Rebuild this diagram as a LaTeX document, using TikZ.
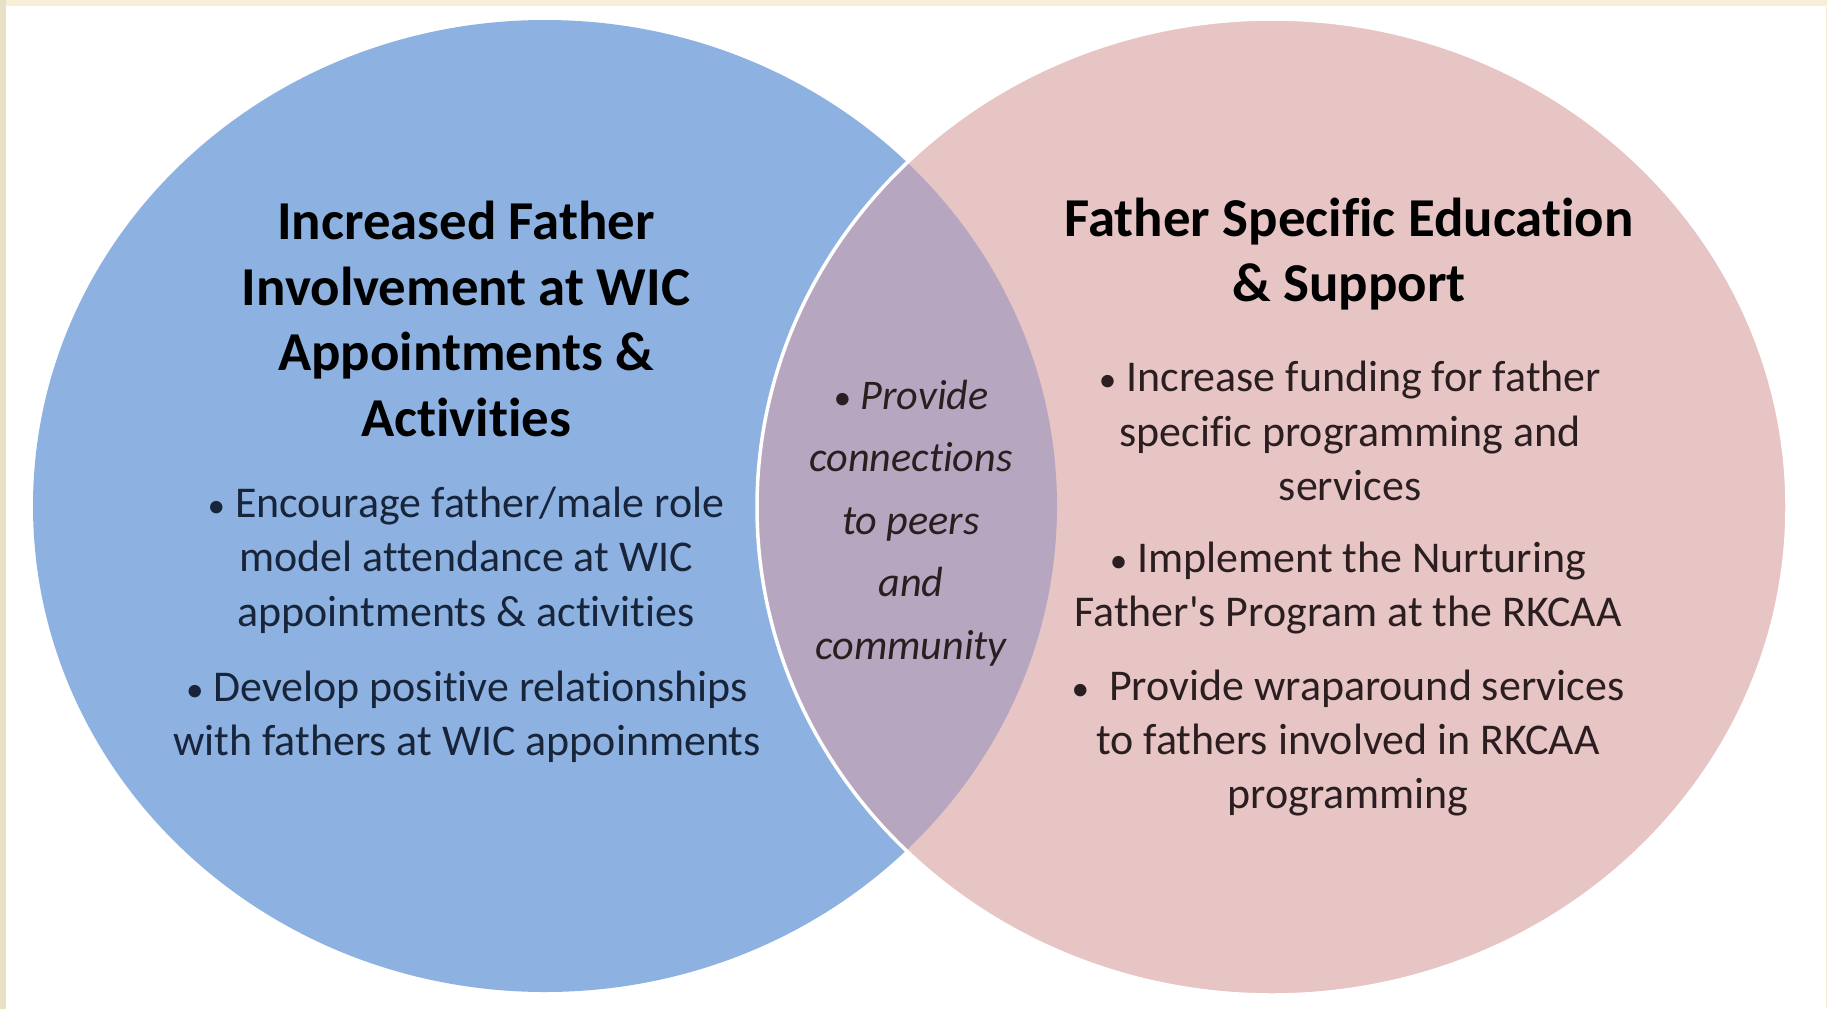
\documentclass[tikz,border=0pt]{standalone}
\usepackage{fontspec}
\setmainfont{Carlito}[Ligatures={TeX,NoCommon}]
\usepackage{xcolor}
\usepackage{tikz}
\usetikzlibrary{positioning}

\definecolor{frame}{HTML}{F8EDD7}
\definecolor{frameside}{HTML}{E9E0C6}
\definecolor{setblue}{HTML}{8DB2E1}
\definecolor{setpink}{HTML}{E8C5C5}
\definecolor{setlens}{HTML}{B7A6BF}
\definecolor{inkblue}{HTML}{17243A}
\definecolor{inkred}{HTML}{2A1E20}

\newcommand{\dotmark}{{\fontsize{10}{10}\selectfont\textbullet}}

\tikzset{
  heading/.style={align=center, font=\fontsize{15.6}{18.6}\selectfont\bfseries, text=black, inner sep=0pt},
  item/.style={align=center, font=\fontsize{12.5}{15.5}\selectfont, inner sep=0pt},
  lenstext/.style={align=center, font=\fontsize{12}{17.8}\selectfont\itshape, text=inkred, inner sep=0pt}
}

\begin{document}
\begin{tikzpicture}
\useasboundingbox (0,0) rectangle (18.27,10.09);
\fill [frame] (0,0) rectangle (18.27,10.09);
\fill [frameside] (0,0) rectangle (0.06,10.09);
\fill [white] (0.06,0) rectangle (18.26,10.03);

% the two sets and their overlap
\fill [setblue] (5.45,5.03) ellipse [x radius=5.12, y radius=4.86];
\fill [setpink] (12.72,5.02) ellipse [x radius=5.15, y radius=4.88];
\begin{scope}
\clip (5.45,5.03) ellipse [x radius=5.12, y radius=4.86];
\fill [setlens] (12.72,5.02) ellipse [x radius=5.15, y radius=4.88];
\end{scope}
\draw [white, line width=0.035cm] (12.72,5.02) ellipse [x radius=5.15, y radius=4.88];

\node [heading] (lefthead) at (4.66,6.90) {Increased Father\\ Involvement at WIC\\ Appointments \&\\ Activities};
\node [item, text=inkblue] (leftone) at (4.66,4.49) {\dotmark\ Encourage father/male role\\ model attendance at WIC\\ appointments \& activities};
\node [item, text=inkblue] (lefttwo) at (4.67,2.92) {\dotmark\ Develop positive relationships\\ with fathers at WIC appoinments};

\node [lenstext] (shared) at (9.11,4.86) {\dotmark\ Provide\\ connections\\ to peers\\ and\\ community};

\node [heading] (righthead) at (13.49,7.55) {Father Specific Education\\ \& Support};
\node [item, text=inkred] (rightone) at (13.50,5.78) {\dotmark\ Increase funding for father\\ specific programming and\\ services};
\node [item, text=inkred] (righttwo) at (13.48,4.21) {\dotmark\ Implement the Nurturing\\ Father\textquotesingle s Program at the RKCAA};
\node [item, text=inkred] (rightthree) at (13.48,2.66) {\dotmark\ \ Provide wraparound services\\ to fathers involved in RKCAA\\ programming};
\end{tikzpicture}
\end{document}
